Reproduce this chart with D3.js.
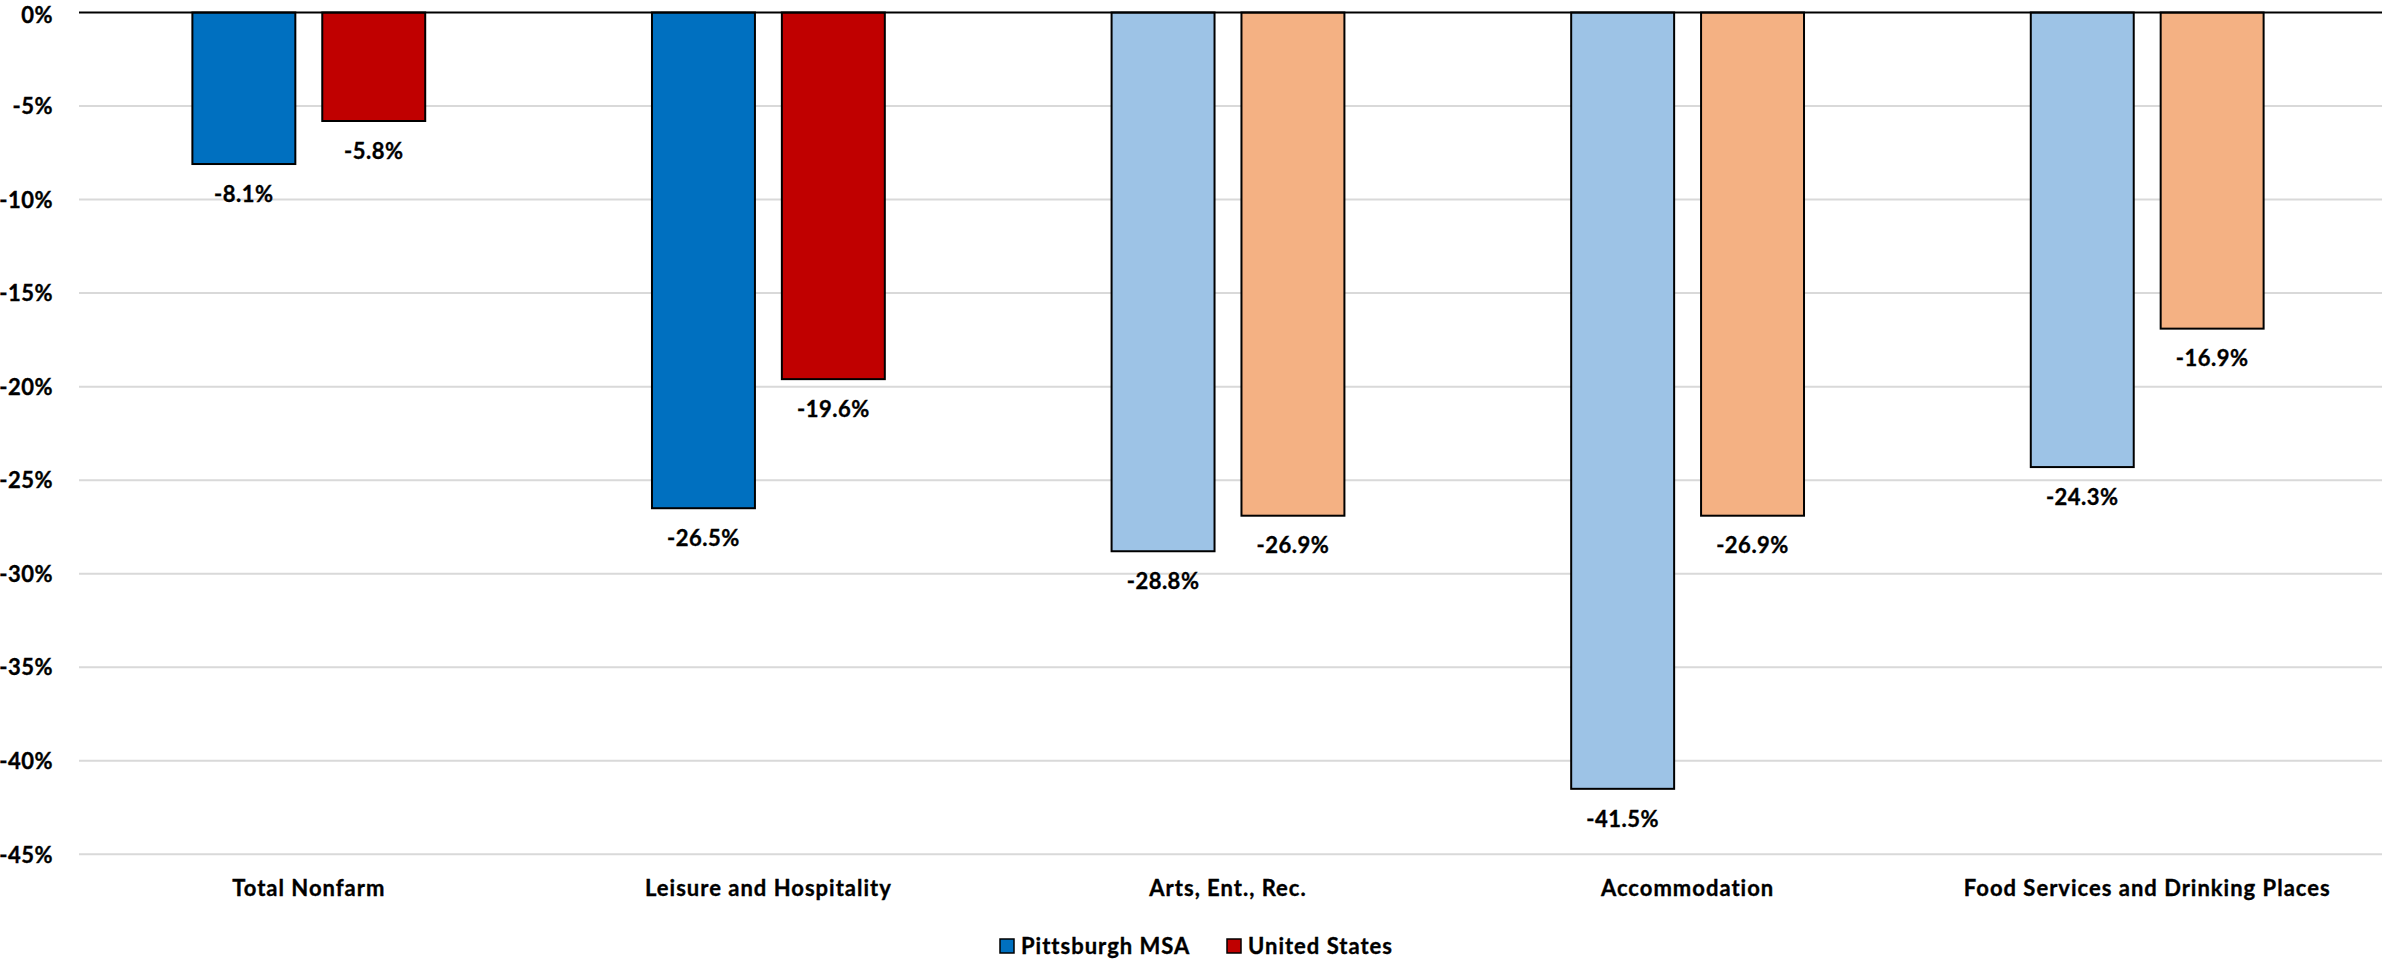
<!DOCTYPE html>
<html>
<head>
<meta charset="utf-8">
<script src="https://cdn.jsdelivr.net/npm/d3@7"></script>
<style>
  html, body { margin: 0; padding: 0; background: #fff; }
  text { font-family: Lato, "Open Sans", sans-serif; font-weight: bold; fill: #000; stroke: #000; stroke-width: 0.35px; }
</style>
</head>
<body>
<svg id="chart" width="2382" height="959"></svg>
<script>
const categories = ["Total Nonfarm", "Leisure and Hospitality", "Arts, Ent., Rec.", "Accommodation", "Food Services and Drinking Places"];
const seriesNames = ["Pittsburgh MSA", "United States"];
const pittsburgh = [-8.1, -26.5, -28.8, -41.5, -24.3];
const unitedStates = [-5.8, -19.6, -26.9, -26.9, -16.9];
const yTicks = [0, -5, -10, -15, -20, -25, -30, -35, -40, -45];
const pittsburghColors = ["#0070C0", "#0070C0", "#9DC3E6", "#9DC3E6", "#9DC3E6"];
const usColors = ["#C00000", "#C00000", "#F4B183", "#F4B183", "#F4B183"];

const svg = d3.select("#chart");
const plotLeft = 79, plotRight = 2377, plotTop = 12.5, plotBottom = 854.3;
const fs = 22;

const y = d3.scaleLinear().domain([0, -45]).range([plotTop, plotBottom]);
const x0 = d3.scaleBand().domain(categories).range([plotLeft, plotRight]).paddingInner(0).paddingOuter(0);
const barW = x0.bandwidth() * 0.224;
const gap = x0.bandwidth() * 0.0586;

// gridlines
svg.append("g").selectAll("line").data(yTicks.filter(d => d !== 0)).join("line")
  .attr("x1", plotLeft).attr("x2", 2382)
  .attr("y1", d => y(d)).attr("y2", d => y(d))
  .attr("stroke", "#d9d9d9").attr("stroke-width", 2);

// y axis labels
const yAxis = d3.axisLeft(y).tickValues(yTicks).tickSize(0).tickPadding(0).tickFormat(d => d + "%");
const ya = svg.append("g").attr("transform", `translate(${plotLeft - 26},0)`).call(yAxis);
ya.select(".domain").remove();
ya.selectAll("text").attr("font-size", fs).attr("font-family", null).attr("letter-spacing", 0.5)
  .attr("dy", "0.35em").attr("x", 0).attr("y", d => d === 0 ? 2 : 0);

const rows = categories.map((c, i) => ({ cat: c, i, vals: [pittsburgh[i], unitedStates[i]], cols: [pittsburghColors[i], usColors[i]] }));

const g = svg.append("g");
rows.forEach(r => {
  const cx = x0(r.cat) + x0.bandwidth() / 2;
  r.vals.forEach((v, k) => {
    const bx = k === 0 ? cx - gap / 2 - barW : cx + gap / 2;
    g.append("rect")
      .attr("x", bx).attr("y", y(0))
      .attr("width", barW).attr("height", y(v) - y(0))
      .attr("fill", r.cols[k]).attr("stroke", "#000").attr("stroke-width", 2);
    g.append("text")
      .attr("x", bx + barW / 2).attr("y", y(v) + 30)
      .attr("dy", "0.35em").attr("text-anchor", "middle").attr("letter-spacing", 0.5)
      .attr("font-size", fs).text(v.toFixed(1) + "%");
  });
});

// zero line
svg.append("line").attr("x1", plotLeft).attr("x2", 2382).attr("y1", y(0)).attr("y2", y(0))
  .attr("stroke", "#000").attr("stroke-width", 2);

// category labels
const xAxis = d3.axisBottom(x0).tickSize(0).tickPadding(0);
const xa = svg.append("g").attr("transform", `translate(0,${888})`).call(xAxis);
xa.select(".domain").remove();
xa.selectAll("text").attr("font-size", fs).attr("font-family", null).attr("letter-spacing", 1)
  .attr("dy", "0.35em").attr("y", 0);

// legend
const legendX = [1000, 1227];
const legendColors = [pittsburghColors[0], usColors[0]];
const lg = svg.append("g");
seriesNames.forEach((n, k) => {
  lg.append("rect").attr("x", legendX[k]).attr("y", 939).attr("width", 14).attr("height", 14)
    .attr("fill", legendColors[k])
    .attr("stroke", "#000").attr("stroke-width", 1.5);
  lg.append("text").attr("x", legendX[k] + 21).attr("y", 946).attr("dy", "0.35em")
    .attr("font-size", fs).attr("letter-spacing", 1).text(n);
});
</script>
</body>
</html>
